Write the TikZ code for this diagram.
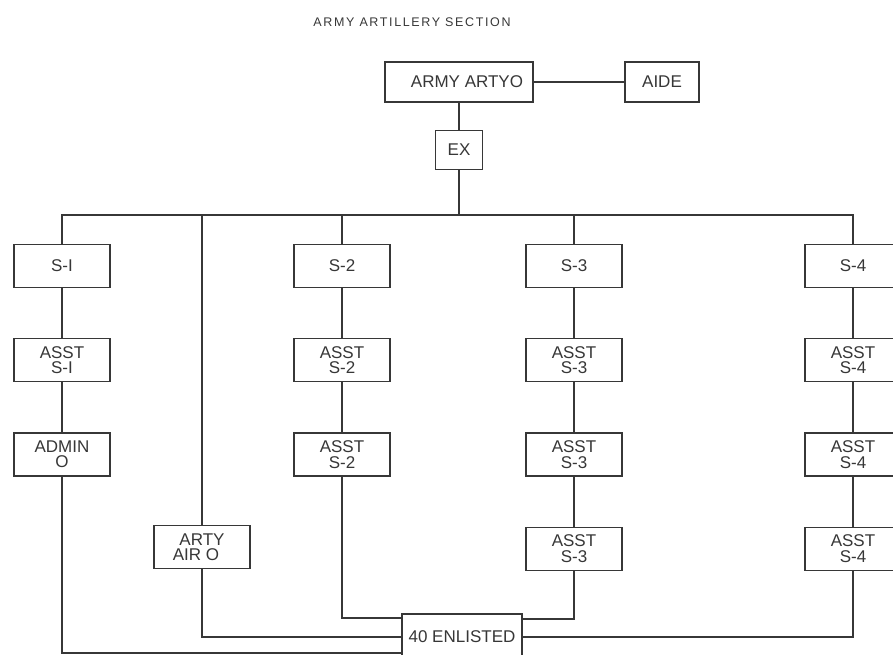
\documentclass[tikz,border=0pt]{standalone}
\usepackage{fontspec}
\setmainfont{Liberation Sans}
\usetikzlibrary{positioning}
\definecolor{inkgray}{RGB}{55,55,55}

\begin{document}
\begin{tikzpicture}[
  x=1pt, y=-1pt,
  node distance = 50pt and 40pt,
  box/.style   = {rectangle, draw=inkgray, line width=1.2pt, fill=white,
                  minimum width=96pt, minimum height=43pt, inner sep=1pt,
                  font=\fontsize{17}{15.5}\selectfont, text=inkgray, align=center},
  link/.style  = {draw=inkgray, line width=1.2pt},
  ttl/.style   = {font=\fontsize{12.5}{14}\selectfont\addfontfeatures{LetterSpace=13},
                  text=inkgray},
]
\useasboundingbox (0,0) rectangle (893,654);
\clip (0,0) rectangle (893,654);

% ── Title ─────────────────────────────────────────────────────────────────────
\node[ttl] (title) at (412,22) {ARMY ARTILLERY SECTION};

% ── Head ──────────────────────────────────────────────────────────────────────
\node[box, minimum width=148pt, minimum height=40pt] (army) at (459,82)
  {\hspace*{16pt}ARMY ARTYO};
\node[box, minimum width=74pt, minimum height=40pt] (aide) at (662,82)
  {AIDE};
\node[box, minimum width=47pt, minimum height=39pt, below=27pt of army] (ex)
  {EX};
\coordinate (bus) at (459,215);

% ── Staff columns ─────────────────────────────────────────────────────────────
\node[box] (s1) at (62,266)  {S-I};
\node[box] (s2) at (342,266) {S-2};
\node[box] (s3) at (574,266) {S-3};
\node[box] (s4) at (853,266) {S-4};

\node[box, below=of s1] (asst1)  {ASST\\S-I};
\node[box, below=of asst1] (admin) {ADMIN\\O};

\node[box, below=of s2] (asst2a) {ASST\\S-2};
\node[box, below=of asst2a] (asst2b) {ASST\\S-2};

\node[box, below=of s3] (asst3a) {ASST\\S-3};
\node[box, below=of asst3a] (asst3b) {ASST\\S-3};
\node[box, below=of asst3b] (asst3c) {ASST\\S-3};

\node[box, below=of s4] (asst4a) {ASST\\S-4};
\node[box, below=of asst4a] (asst4b) {ASST\\S-4};
\node[box, below=of asst4b] (asst4c) {ASST\\S-4};

\node[box] (airo) at (202,547) {ARTY\\\hspace*{-12pt}AIR O};

\node[box, minimum width=120pt, minimum height=46pt] (enl) at (462,637)
  {40 ENLISTED};

% ── Links: head ───────────────────────────────────────────────────────────────
\draw[link] (army) -- (aide);
\draw[link] (army) -- (ex);
\draw[link] (ex)   -- (bus);
\draw[link] (s1.north) |- (bus) -| (s4.north);
\draw[link] (s2.north)   -- (s2.north |- bus);
\draw[link] (s3.north)   -- (s3.north |- bus);
\draw[link] (airo.north) -- (airo.north |- bus);

% ── Links: columns ────────────────────────────────────────────────────────────
\draw[link] (s1) -- (asst1);
\draw[link] (asst1) -- (admin);
\draw[link] (s2) -- (asst2a);
\draw[link] (asst2a) -- (asst2b);
\draw[link] (s3) -- (asst3a);
\draw[link] (asst3a) -- (asst3b);
\draw[link] (asst3b) -- (asst3c);
\draw[link] (s4) -- (asst4a);
\draw[link] (asst4a) -- (asst4b);
\draw[link] (asst4b) -- (asst4c);

% ── Links: enlisted ───────────────────────────────────────────────────────────
\draw[link] (asst2b.south) |- ([yshift=19pt]enl.west);
\draw[link] (airo.south)   |- (enl.west);
\draw[link] (admin.south)  |- ([yshift=-16pt]enl.west);
\draw[link] (asst3c.south) |- ([yshift=18pt]enl.east);
\draw[link] (asst4c.south) |- (enl.east);

\end{tikzpicture}
\end{document}
